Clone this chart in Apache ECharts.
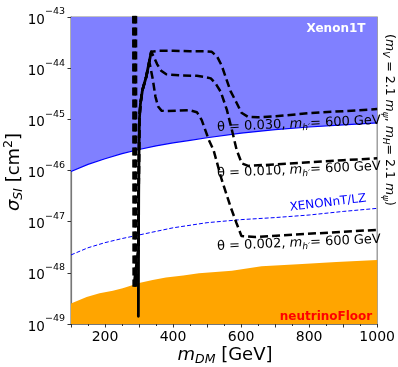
<!DOCTYPE html>
<html><head><meta charset="utf-8">
<script src="https://cdn.jsdelivr.net/npm/echarts@6/dist/echarts.min.js"></script>
<style>html,body{margin:0;padding:0;background:#fff}#c{width:398px;height:367px}</style>
</head><body><div id="c"></div>
<script>
// values are log10(sigma_SI / cm^2)
const xenon1TMass = [100,150,200,250,300,350,400,450,500,600,700,800,900,1000];
const xenon1TLog  = [-46.02,-45.88,-45.77,-45.67,-45.59,-45.52,-45.46,-45.41,-45.36,-45.27,-45.20,-45.15,-45.11,-45.07];
const xenonNTMass = [100,150,200,250,300,350,400,500,600,700,800,900,1000];
const xenonNTLog  = [-47.65,-47.51,-47.41,-47.33,-47.26,-47.19,-47.12,-47.02,-46.96,-46.92,-46.87,-46.80,-46.74];
const nuFloorMass = [100,146,184,223,252,282,300,340,379,430,476,573,660,767,880,1000];
const nuFloorLog  = [-48.60,-48.47,-48.40,-48.35,-48.30,-48.24,-48.20,-48.14,-48.09,-48.05,-48.01,-47.96,-47.87,-47.83,-47.79,-47.75];
const spikeMass = [298,298.5,299,300,301,304,310,321,336];
const spikeLog  = [-48.85,-47.5,-46.5,-45.6,-45.0,-44.7,-44.43,-44.17,-43.68];
const curve030Mass = [283,284,298.5,299,300,301,304,310,321,336,360,400,450,490,514,530,543,556,569,587,601,620,650,700,800,900,1000];
const curve030Log  = [-42.5,-48.27,-47.5,-46.5,-45.6,-45.0,-44.7,-44.43,-44.17,-43.68,-43.66,-43.66,-43.67,-43.67,-43.68,-43.78,-43.95,-44.2,-44.45,-44.68,-44.87,-44.95,-44.96,-44.94,-44.88,-44.84,-44.80];
const curve010Mass = [287,288,298.5,299,300,301,304,310,321,336,345,353,365,380,420,470,490,511,525,540,558,573,587,602,621,700,800,900,1000];
const curve010Log  = [-42.5,-48.27,-47.5,-46.5,-45.6,-45.0,-44.7,-44.43,-44.17,-43.68,-43.8,-43.92,-44.05,-44.12,-44.14,-44.15,-44.17,-44.2,-44.3,-44.46,-44.81,-45.21,-45.60,-45.86,-45.91,-45.88,-45.84,-45.80,-45.76];
const curve002Mass = [291,292,298.5,299,300,301,304,310,321,331,340,348,356,366,380,447,470,484,505,519,543,569,586,601,642,738,1000];
const curve002Log  = [-42.5,-48.27,-47.5,-46.5,-45.6,-45.0,-44.7,-44.43,-44.17,-43.9,-44.2,-44.55,-44.75,-44.83,-44.84,-44.82,-44.86,-45.01,-45.4,-45.6,-46.18,-46.71,-47.02,-47.28,-47.30,-47.26,-47.16];
const curveLabels = ['0.030','0.010','0.002'];
const xTickLabels = [200,400,600,800,1000];

const zip = (a,b) => a.map((v,i)=>[v,b[i]]);
const FF = 'DejaVu Sans';
const chart = echarts.init(document.getElementById('c'), null, {renderer:'canvas'});
const dash = {color:'#000', width:2.5, type:[8,4], cap:'butt'};
function thetaText(t){ return '{n|θ = '+t+', }{i|m}{s|h′}{n|= 600 GeV}'; }
function thetaRich(){ return {
  n:{fontSize:13, fontFamily:FF, fill:'#000', verticalAlign:'top', lineHeight:15},
  i:{fontSize:13, fontFamily:FF, fill:'#000', fontStyle:'italic', verticalAlign:'top', lineHeight:15},
  s:{fontSize:9, fontFamily:FF, fill:'#000', fontStyle:'italic', verticalAlign:'bottom'}
};}
const labelY = [125, 171, 244];
chart.setOption({
  animation:false,
  grid:{left:71, right:18, top:17, bottom:43, show:true, borderColor:'#888', borderWidth:1.2, backgroundColor:'transparent'},
  xAxis:{type:'value', min:100, max:1000, interval:100,
    axisLine:{show:true, lineStyle:{color:'#777', width:1.2}},
    axisTick:{show:true, inside:false, length:3.5, lineStyle:{color:'#333'}},
    minorTick:{show:true, splitNumber:2, length:2, lineStyle:{color:'#333'}},
    splitLine:{show:false},
    axisLabel:{margin:6, fontSize:14, fontFamily:FF, color:'#000',
      formatter:v=> xTickLabels.indexOf(v)>=0 ? String(v) : ''}},
  yAxis:{type:'value', min:-49, max:-43, interval:1,
    axisLine:{show:true, lineStyle:{color:'#777', width:1.2}},
    axisTick:{show:true, inside:false, length:3.5, lineStyle:{color:'#333'}},
    splitLine:{show:false},
    axisLabel:{margin:6, fontFamily:FF, color:'#000',
      formatter:v=>'{b|10}{s|−'+(-v)+'}',
      rich:{b:{fontSize:13.5, fontFamily:FF, lineHeight:20, verticalAlign:'bottom', color:'#000'},
            s:{fontSize:9.5, fontFamily:FF, verticalAlign:'top', color:'#000'}}}},
  series:[
    {type:'line', data:zip(xenon1TMass,xenon1TLog), showSymbol:false, z:1,
      lineStyle:{color:'#0000ff', width:1.2}, areaStyle:{origin:'end', color:'#8080ff', opacity:1}},
    {type:'line', data:zip(nuFloorMass,nuFloorLog), showSymbol:false, z:1,
      lineStyle:{width:0}, areaStyle:{origin:'start', color:'#ffa500', opacity:1}},
    {type:'line', data:zip(xenonNTMass,xenonNTLog), showSymbol:false, z:2,
      lineStyle:{color:'#0000ff', width:1, type:[4,2]}},
    {type:'line', data:zip(curve030Mass,curve030Log), showSymbol:false, z:3, lineStyle:dash},
    {type:'line', data:zip(curve010Mass,curve010Log), showSymbol:false, z:3, lineStyle:dash},
    {type:'line', data:zip(curve002Mass,curve002Log), showSymbol:false, z:3, lineStyle:dash},
    {type:'line', data:zip(spikeMass,spikeLog), showSymbol:false, z:4,
      lineStyle:{color:'#000', width:2.8, cap:'round', join:'round'}}
  ],
  graphic:[
    {type:'text', z:100, x:225, y:355, style:{text:'{i|m}{s|DM}{n| [GeV]}', align:'center', verticalAlign:'middle',
      rich:{i:{fontSize:18, fontFamily:FF, fontStyle:'italic', fill:'#000', lineHeight:24},
            s:{fontSize:12.5, fontFamily:FF, fontStyle:'italic', fill:'#000', verticalAlign:'bottom', padding:[0,0,1,0]},
            n:{fontSize:18, fontFamily:FF, fill:'#000', lineHeight:24}}}},
    {type:'text', z:100, x:14, y:172, rotation:Math.PI/2, style:{text:'{i|σ}{s|SI}{n| [cm}{p|2}{n|]}', align:'center', verticalAlign:'middle',
      rich:{i:{fontSize:18, fontFamily:FF, fontStyle:'italic', fill:'#000', lineHeight:24},
            s:{fontSize:12.5, fontFamily:FF, fontStyle:'italic', fill:'#000', verticalAlign:'bottom', padding:[0,0,1,0]},
            n:{fontSize:18, fontFamily:FF, fill:'#000', lineHeight:24},
            p:{fontSize:12.5, fontFamily:FF, fill:'#000', verticalAlign:'top', padding:[0,0,0,0]}}}},
    {type:'text', z:100, x:388, y:120, rotation:-Math.PI/2, style:{text:'{n|(}{i|m}{s|V}{n| = 2.1 }{i|m}{s|ψ}{n|, }{i|m}{s|H}{n|= 2.1 }{i|m}{s|ψ}{n|)}', align:'center', verticalAlign:'middle',
      rich:{n:{fontSize:12.5, fontFamily:FF, fill:'#000', verticalAlign:'top', lineHeight:15},
            i:{fontSize:12.5, fontFamily:FF, fontStyle:'italic', fill:'#000', verticalAlign:'top', lineHeight:15},
            s:{fontSize:9, fontFamily:FF, fontStyle:'italic', fill:'#000', verticalAlign:'bottom'}}}},
    {type:'text', z:100, x:336, y:29, style:{text:'Xenon1T', align:'center', verticalAlign:'middle', fontSize:12, fontWeight:'bold', fontFamily:FF, fill:'#fff'}},
    {type:'text', z:100, x:326, y:317, style:{text:'neutrinoFloor', align:'center', verticalAlign:'middle', fontSize:12, fontWeight:'bold', fontFamily:FF, fill:'#ff0000'}},
    {type:'text', z:100, x:328, y:203, rotation:7*Math.PI/180, style:{text:'XENONnT/LZ', align:'center', verticalAlign:'middle', fontSize:12, fontFamily:FF, fill:'#0000ff'}},
  ].concat(curveLabels.map((t,k)=>({type:'text', z:100, x:299, y:labelY[k], rotation:2.5*Math.PI/180,
      style:{text:thetaText(t), align:'center', verticalAlign:'middle', rich:thetaRich()}})))
});
</script></body></html>
